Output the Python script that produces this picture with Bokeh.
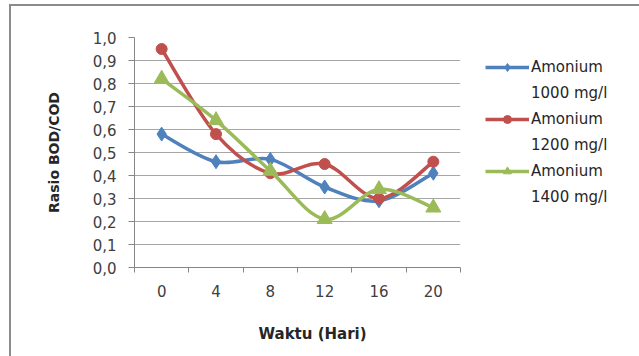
from bokeh.plotting import figure
from bokeh.models import (FixedTicker, CustomJSTickFormatter, Legend, LegendItem,
                          Range1d, Title)
from bokeh.embed import file_html
from bokeh.resources import INLINE

# ---- data ----
days = [0, 4, 8, 12, 16, 20]
day_boundaries = [-2, 2, 6, 10, 14, 18, 22]
amonium_1000 = [0.58, 0.46, 0.47, 0.35, 0.29, 0.41]
amonium_1200 = [0.95, 0.58, 0.41, 0.45, 0.30, 0.46]
amonium_1400 = [0.82, 0.64, 0.42, 0.21, 0.34, 0.26]
series_name = "Amonium"
series_conc = ["1000 mg/l", "1200 mg/l", "1400 mg/l"]
y_ticks = [0.0, 0.1, 0.2, 0.3, 0.4, 0.5, 0.6, 0.7, 0.8, 0.9, 1.0]
x_title = "Waktu (Hari)"
y_title = "Rasio BOD/COD"

colors = ["#4F81BD", "#C0504D", "#9BBB59"]
FONT = "DejaVu Sans"


def bezier_segments(xs, ys, t=1.0 / 6.0):
    """Excel-like smoothed line: cubic bezier control points from neighbours."""
    n = len(xs)
    out = {k: [] for k in ("x0", "y0", "x1", "y1", "cx0", "cy0", "cx1", "cy1")}
    for i in range(n - 1):
        x0, y0 = xs[i], ys[i]
        x1, y1 = xs[i + 1], ys[i + 1]
        xp, yp = (xs[i - 1], ys[i - 1]) if i > 0 else (x0, y0)
        xn, yn = (xs[i + 2], ys[i + 2]) if i + 2 < n else (x1, y1)
        out["x0"].append(x0); out["y0"].append(y0)
        out["x1"].append(x1); out["y1"].append(y1)
        out["cx0"].append(x0 + (x1 - xp) * t); out["cy0"].append(y0 + (y1 - yp) * t)
        out["cx1"].append(x1 - (xn - x0) * t); out["cy1"].append(y1 - (yn - y0) * t)
    return out


p = figure(frame_width=326, frame_height=230, x_range=Range1d(-2, 22), y_range=Range1d(0, 1),
           output_backend="svg", toolbar_location=None,
           min_border_left=123, min_border_right=160, min_border_top=31, min_border_bottom=70)
p.outline_line_color = None
p.background_fill_color = "white"
p.border_fill_color = "white"
p.styles = {"margin-left": "9px", "margin-top": "4px", "margin-bottom": "-40px",
            "border-left": "2px solid #8c8c8c", "border-top": "2px solid #8c8c8c"}

# axes
p.xaxis.ticker = FixedTicker(ticks=days, minor_ticks=day_boundaries)
p.xaxis.major_tick_out = 0
p.xaxis.major_tick_in = 0
p.xaxis.minor_tick_out = 5
p.xaxis.minor_tick_in = 0
p.xaxis.minor_tick_line_color = "#868686"
p.xaxis.axis_line_color = "#868686"
p.xaxis.major_label_standoff = 12
p.xaxis.major_label_text_font = FONT
p.xaxis.major_label_text_font_size = "15px"
p.xaxis.major_label_text_color = "#404040"

p.yaxis.ticker = FixedTicker(ticks=y_ticks)
p.yaxis.formatter = CustomJSTickFormatter(code="return tick.toFixed(1).replace('.', ',');")
p.yaxis.major_tick_out = 6
p.yaxis.major_tick_in = 0
p.yaxis.minor_tick_line_color = None
p.yaxis.major_tick_line_color = "#868686"
p.yaxis.axis_line_color = "#868686"
p.yaxis.major_label_standoff = 12
p.yaxis.major_label_text_font = FONT
p.yaxis.major_label_text_font_size = "15px"
p.yaxis.major_label_text_color = "#404040"
p.yaxis.axis_label = y_title
p.yaxis.axis_label_text_font = FONT
p.yaxis.axis_label_text_font_style = "bold"
p.yaxis.axis_label_text_font_size = "14px"
p.yaxis.axis_label_text_color = "#262626"
p.yaxis.axis_label_standoff = 28

p.xgrid.grid_line_color = None
p.ygrid.ticker = FixedTicker(ticks=y_ticks)
p.ygrid.grid_line_color = "#a6a6a6"
p.ygrid.grid_line_width = 1

p.add_layout(Title(text=x_title, align="left", offset=124, standoff=47,
                   text_font=FONT, text_font_style="bold", text_font_size="15px",
                   text_color="#262626"), "below")

# series
series = [amonium_1000, amonium_1200, amonium_1400]
markers = ["diamond", "circle", "triangle"]
sizes = [14, 11, 15]
legend_items = []
for vals, col, mk, sz, conc in zip(series, colors, markers, sizes, series_conc):
    seg = bezier_segments(days, vals)
    p.bezier(x0=seg["x0"], y0=seg["y0"], x1=seg["x1"], y1=seg["y1"],
             cx0=seg["cx0"], cy0=seg["cy0"], cx1=seg["cx1"], cy1=seg["cy1"],
             line_color=col, line_width=3.5)
    sc = p.scatter(days, vals, marker=mk, size=sz, fill_color=col, line_color=col)
    # one-point line: draws nothing on the plot, provides the legend key line
    key_line = p.line(x=days[:1], y=vals[:1], line_color=col, line_width=3.5)
    blank = p.line(x=days[:1], y=vals[:1], line_alpha=0)
    legend_items.append(LegendItem(label=series_name, renderers=[key_line, sc]))
    legend_items.append(LegendItem(label=conc, renderers=[blank]))

legend = Legend(items=legend_items, location=(25, 60), orientation="vertical",
                glyph_width=44, glyph_height=20, label_height=20, label_standoff=2,
                label_text_font=FONT, label_text_font_size="15px", label_text_color="#262626",
                padding=0, margin=0, spacing=6, border_line_color=None,
                background_fill_alpha=0)
p.add_layout(legend, "right")

open("out.html", "w").write(file_html(p, INLINE))
